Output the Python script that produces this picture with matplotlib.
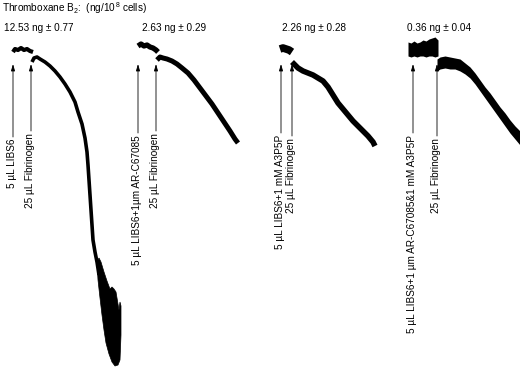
import matplotlib
matplotlib.use('Agg')
import matplotlib.pyplot as plt

# values (x = time in px, y = transmission in px, top = 0)
TXB2_LABELS = ['12.53 ng ± 0.77', '2.63 ng ± 0.29', '2.26 ng ± 0.28', '0.36 ng ± 0.04']
TXB2_X = [4, 142, 282, 407]

AGONIST_LABELS = ['5 µL LIBS6',
                  '5 µL LIBS6+1µm AR-C67085',
                  '5 µL LIBS6+1 mM A3P5P',
                  '5 µL LIBS6+1 µm AR-C67085&1 mM A3P5P']
FIBRINOGEN_LABEL = '25 µL Fibrinogen'
LIBS6_TIME = [13, 138, 281, 413]
FIBRINOGEN_TIME = [31, 156, 292, 437]

# trace 1 (LIBS6 alone)
t1a_x = [13, 15, 18, 21, 24, 27, 30, 33]
t1a_y = [52, 49, 50, 48, 50, 49, 51, 52]
t1b_x = [32, 34, 37, 40, 45, 50, 55, 60, 65, 70, 75, 78, 82, 85, 87, 88, 89, 90, 91, 92, 93, 95, 97, 99]
t1b_y = [62, 58, 57, 59, 62, 66, 71, 77, 84, 92, 102, 112, 124, 138, 152, 165, 180, 195, 210, 225, 240, 252, 262, 275]
# noisy tail of trace 1 (outline)
t1c_x = [97, 98, 100, 102, 104, 106, 109, 112, 115, 118, 120, 121, 121, 120, 119, 117, 116, 114, 112, 110, 107, 104, 101, 99]
t1c_y = [262, 280, 298, 315, 330, 343, 354, 362, 366, 365, 360, 335, 306, 302, 310, 298, 292, 289, 287, 289, 281, 272, 262, 258]

# trace 2 (+ AR-C67085)
t2a_x = [138, 141, 144, 147, 150, 153, 156, 158]
t2a_y = [46, 44, 46, 45, 47, 48, 50, 52]
t2b_x = [157, 160, 163, 167, 172, 177, 182, 188, 194, 200, 206, 212, 218, 224, 230, 235, 238]
t2b_y = [60, 57, 58, 59, 61, 64, 68, 73, 80, 88, 96, 104, 113, 122, 131, 139, 143]

# trace 3 (+ A3P5P)
t3a_x = [280, 283, 286, 289, 292]
t3a_y = [49, 48, 49, 50, 52]
t3b_x = [292, 295, 298, 303, 308, 313, 318, 323, 328, 333, 338, 343, 348, 353, 358, 363, 368, 373, 375]
t3b_y = [62, 65, 68, 71, 73, 75, 78, 81, 87, 95, 103, 109, 115, 121, 126, 131, 136, 142, 146]

# trace 4 (+ both), upper / lower envelope
t4a_x = [408, 411, 414, 417, 420, 423, 426, 429, 432, 435, 438]
t4a_hi = [42, 43, 41, 43, 42, 40, 41, 39, 38, 37, 40]
t4a_lo = [56, 57, 56, 57, 56, 56, 57, 56, 56, 57, 56]
t4b_x = [437, 440, 445, 450, 455, 460, 465, 470, 475, 480, 485, 490, 495, 500, 505, 510, 515, 520]
t4b_hi = [59, 57, 56, 57, 58, 59, 63, 67, 73, 80, 87, 93, 100, 107, 113, 120, 126, 131]
t4b_lo = [71, 69, 68, 69, 69, 71, 74, 78, 84, 91, 98, 105, 112, 119, 126, 133, 139, 145]

plt.rcParams.update({
    'font.family': ['Liberation Sans', 'DejaVu Sans'],
    'font.size': 7.2,
    'mathtext.fontset': 'custom',
    'mathtext.rm': 'Liberation Sans',
    'mathtext.it': 'Liberation Sans:italic',
})

fig = plt.figure(figsize=(5.2, 3.69), dpi=100)
ax = fig.add_axes([0, 0, 1, 1])
ax.set_xlim(0, 520)
ax.set_ylim(369, 0)
ax.axis('off')

ax.text(2, 8, 'Thromboxane B$_2$:  (ng/10$^{\\,8}$ cells)', ha='left', va='center')
for lab, x in zip(TXB2_LABELS, TXB2_X):
    ax.text(x, 28, lab, ha='left', va='center')

# traces (line widths in points; 1 px = 0.72 pt)
ax.plot(t1a_x, t1a_y, color='black', lw=3.0, solid_capstyle='butt')
ax.plot(t1b_x, t1b_y, color='black', lw=2.6, solid_capstyle='butt')
ax.fill(t1c_x, t1c_y, color='black', lw=0.5)
ax.plot(t2a_x, t2a_y, color='black', lw=3.8, solid_capstyle='butt')
ax.plot(t2b_x, t2b_y, color='black', lw=3.6, solid_capstyle='butt')
ax.plot(t3a_x, t3a_y, color='black', lw=5.5, solid_capstyle='butt')
ax.plot(t3b_x, t3b_y, color='black', lw=4.0, solid_capstyle='butt')
ax.fill_between(t4a_x, t4a_hi, t4a_lo, color='black', lw=0)
ax.fill_between(t4b_x, t4b_hi, t4b_lo, color='black', lw=0)

# injection arrows and labels
label_tops = [(139, 133), (135, 133), (135, 138), (135, 138)]
arrow_kw = dict(arrowstyle='-|>,head_length=0.55,head_width=0.16', lw=0.6, color='black',
                shrinkA=0, shrinkB=0)
for i in range(4):
    for x, lab, top in [(LIBS6_TIME[i], AGONIST_LABELS[i], label_tops[i][0]),
                        (FIBRINOGEN_TIME[i], FIBRINOGEN_LABEL, label_tops[i][1])]:
        ax.annotate('', xy=(x, 64), xytext=(x, top - 2), arrowprops=arrow_kw)
        ax.text(x - 1, top, lab, rotation=90, ha='center', va='top')

fig.savefig('out.png', dpi=100)
